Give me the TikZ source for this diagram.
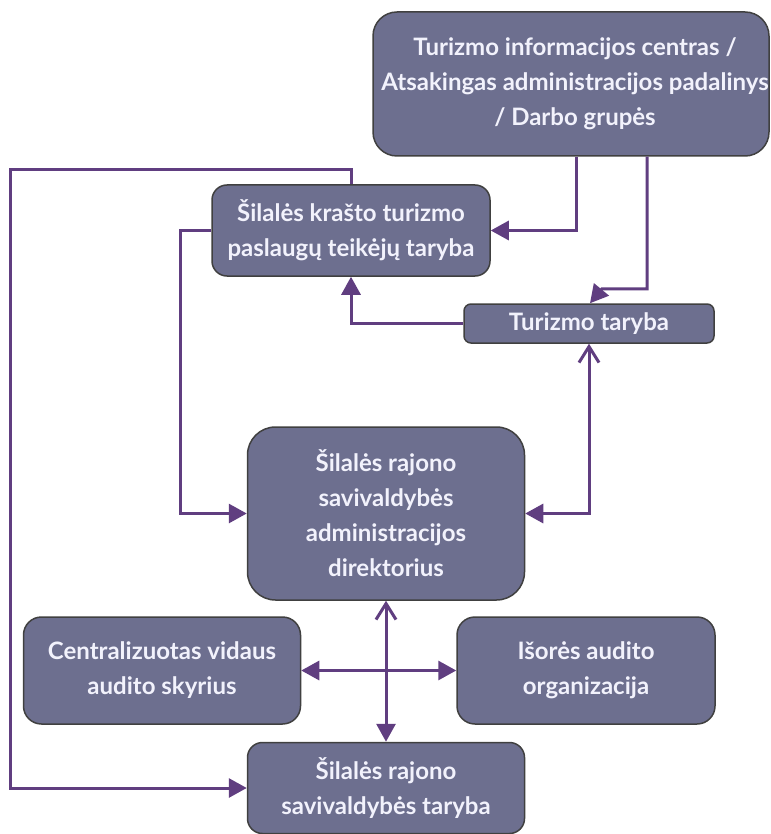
\documentclass[tikz,border=0pt]{standalone}
\usepackage{fontspec}
\setmainfont{Lato}
\usetikzlibrary{arrows.meta}
\definecolor{boxfill}{RGB}{109,111,143}
\definecolor{linkcol}{RGB}{96,62,128}
\definecolor{boxtext}{RGB}{242,242,252}
\tikzset{
box/.style={draw=black!75,line width=1.5pt,fill=boxfill,text=boxtext,align=center,inner sep=0pt,font=\fontsize{24}{35}\selectfont\bfseries},
link/.style={draw=linkcol,line width=3pt},
tip/.style={-{Triangle[length=18pt,width=19pt]}},
barbtip/.style={{Straight Barb[length=16pt,width=20pt]}-{Triangle[length=18pt,width=19pt]}},
twotip/.style={{Triangle[length=18pt,width=19pt]}-{Triangle[length=18pt,width=19pt]}}
}

\begin{document}
\begin{tikzpicture}[x=1pt,y=-1pt] %pixel grid
\useasboundingbox (0,0) rectangle (770,834);
\fill[white] (0,0) rectangle (770,834);
\node[box,minimum width=396pt,minimum height=144pt,rounded corners=24pt] (tic) at (571,84) {\hspace*{8pt}Turizmo informacijos centras /\\\hspace*{8pt}Atsakingas administracijos padalinys\\\hspace*{8pt}/ Darbo grupės};
\node[box,minimum width=278pt,minimum height=91pt,rounded corners=15pt] (ptt) at (351,230.5) {Šilalės krašto turizmo\\paslaugų teikėjų taryba};
\node[box,minimum width=250pt,minimum height=39pt,rounded corners=7pt] (tt) at (589,323.5) {Turizmo taryba};
\node[box,minimum width=277pt,minimum height=173pt,rounded corners=28pt] (dir) at (386,513.5) {Šilalės rajono\\savivaldybės\\administracijos\\direktorius};
\node[box,minimum width=277pt,minimum height=107pt,rounded corners=18pt] (vas) at (162,670.5) {Centralizuotas vidaus\\audito skyrius};
\node[box,minimum width=258pt,minimum height=107pt,rounded corners=18pt] (iao) at (586,670.5) {Išorės audito\\organizacija};
\node[box,minimum width=277pt,minimum height=91pt,rounded corners=15pt] (srt) at (386,788) {Šilalės rajono\\savivaldybės taryba};
\coordinate (c1) at (576,0);
\coordinate (c2) at (647,0);
\coordinate (c3) at (10,0);
\draw[link,tip] (tic.south -| c1) |- (ptt.east);
\draw[link,tip] (tic.south -| c2) -- ++(0,132) -- ++(-45,0) -- ([xshift=1pt]tt.north);
\draw[link,tip] (tt.west) -| (ptt.south);
\draw[link,barbtip] (tt.south) |- (dir.east);
\draw[link,tip] (ptt.west) -- ++(-31,0) |- (dir.west);
\draw[link,tip] (ptt.north) -- ++(0,-15) -| (srt.west -| c3) -- (srt.west);
\draw[link,barbtip] (dir.south) -- (srt.north);
\draw[link,twotip] (vas.east) -- (iao.west);
\end{tikzpicture}
\end{document}
